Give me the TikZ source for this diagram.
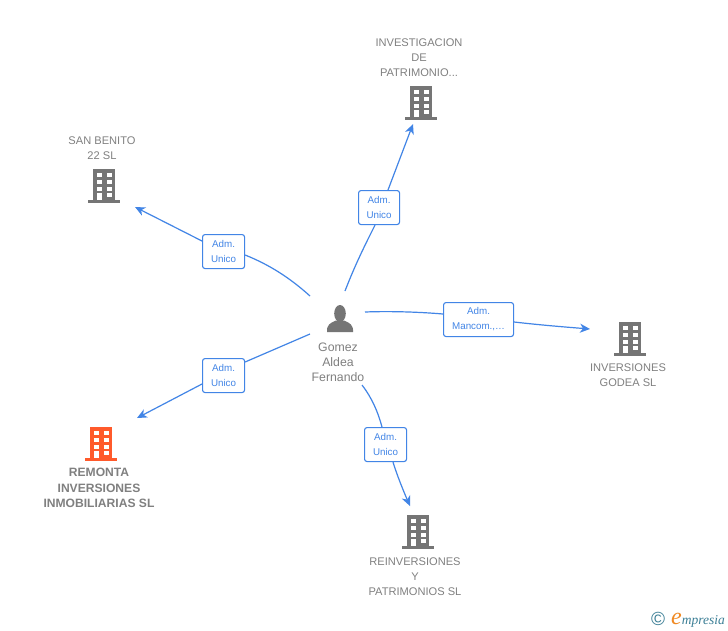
\documentclass[tikz,border=0pt]{standalone}
\usepackage{fontspec}
\setmainfont{Liberation Sans}
\newfontfamily\logofont{Liberation Serif}
\usetikzlibrary{arrows.meta}
\definecolor{linkblue}{HTML}{4285E6}
\definecolor{labgray}{HTML}{808080}
\definecolor{icongray}{HTML}{757575}
\definecolor{iconorange}{HTML}{FF5A2B}
\definecolor{logoteal}{HTML}{3C7F96}
\definecolor{logoorange}{HTML}{F08A24}
\newcommand{\buildingicon}[3]{%
 \begin{scope}[shift={(#1,#2)}]
  \fill[#3] (-11,-17) rectangle (11,14);
  \fill[#3] (-16,14) rectangle (16,17);
  \foreach \wy in {-13,-6,0.5,7}{
    \fill[white] (-7.5,\wy) rectangle ++(5.5,4);
    \fill[white] (2.5,\wy) rectangle ++(5.5,4);
  }
  \fill[white] (-7.5,10) rectangle (-2,14);
 \end{scope}}
\tikzset{
 x=1pt,y=-1pt,
 namelabel/.style={text=labgray,font=\fontsize{11.1}{15}\selectfont,align=center,inner sep=0pt},
 boldlabel/.style={namelabel,font=\fontsize{12.1}{15.3}\selectfont\bfseries},
 rolebox/.style={draw=linkblue,line width=1.1pt,fill=white,rounded corners=2.5pt,text=linkblue,
   font=\fontsize{9.8}{15}\selectfont,align=center,inner sep=0pt,anchor=north west},
 link/.style={draw=linkblue,line width=1.2pt},
 linkarrow/.style={link,-{Stealth[length=10pt,width=9pt,inset=3pt]}},
}
\begin{document}
\begin{tikzpicture}
\useasboundingbox[fill=white] (0,0) rectangle (728,630);
% coordinates
\coordinate (p1) at (345,291); \coordinate (e1) at (413,124);
\coordinate (p2) at (310,296); \coordinate (e2) at (135,207);
\coordinate (p3) at (365,312); \coordinate (e3) at (590,329);
\coordinate (p4) at (310,334); \coordinate (e4) at (137,418);
\coordinate (p5) at (362,385); \coordinate (e5) at (410,506);
% role boxes
\node[rolebox,minimum width=41pt,minimum height=34pt] (r1) at (358,190) {Adm.\\Unico};
\node[rolebox,minimum width=42pt,minimum height=34pt] (r2) at (202,234) {Adm.\\Unico};
\node[rolebox,minimum width=70pt,minimum height=34pt] (r3) at (443,302) {Adm.\\Mancom.,\ldots};
\node[rolebox,minimum width=42pt,minimum height=34pt] (r4) at (202,358) {Adm.\\Unico};
\node[rolebox,minimum width=42pt,minimum height=34pt] (r5) at (364,427) {Adm.\\Unico};
% connectors
\draw[link] (p1) .. controls (355,265) and (365,245) .. (r1.south -| 375,0);
\draw[linkarrow] (r1.north -| 388,0) -- (e1);
\draw[link] (p2) .. controls (290,278) and (270,265) .. (r2.east |- 0,255);
\draw[linkarrow] (r2.west |- 0,241) -- (e2);
\draw[link] (p3) .. controls (390,311) and (420,312) .. (r3.west |- 0,314);
\draw[linkarrow] (r3.east |- 0,322) .. controls (540,325) and (565,327) .. (e3);
\draw[link] (p4) -- (r4.east |- 0,362);
\draw[linkarrow] (r4.west |- 0,384) -- (e4);
\draw[link] (p5) .. controls (372,398) and (378,412) .. (r5.north -| 382,0);
\draw[linkarrow] (r5.south -| 393,0) .. controls (397,475) and (403,490) .. (e5);
% building icons
\buildingicon{421}{103}{icongray}
\buildingicon{104}{186}{icongray}
\buildingicon{630}{339}{icongray}
\buildingicon{418}{532}{icongray}
\buildingicon{101}{444}{iconorange}
% person icon
\fill[icongray] (340,313.5) ellipse (5.8 and 8.5);
\fill[icongray] (327,332) .. controls (326.5,325) and (330,323) .. (336,320.5) -- (344,320.5) .. controls (350,323) and (353.5,325) .. (353,332) -- cycle;
% labels
\node[namelabel] (n1) at (419,57.5) {INVESTIGACION\\DE\\PATRIMONIO...};
\node[namelabel] (n2) at (102,148) {SAN BENITO\\22 SL};
\node[namelabel] (n3) at (628,375.5) {INVERSIONES\\GODEA SL};
\node[namelabel] (n5) at (415,576.5) {REINVERSIONES\\Y\\PATRIMONIOS SL};
\node[boldlabel] (n4) at (99,488) {REMONTA\\INVERSIONES\\INMOBILIARIAS SL};
\node[namelabel,font=\fontsize{12.3}{15}\selectfont] (n0) at (338,362.5) {Gomez\\Aldea\\Fernando};
% logo
\node[inner sep=0pt,text=logoteal,font=\fontsize{19}{19}\selectfont] (lc) at (658,619) {©};
\node[inner sep=0pt,anchor=base west,font=\logofont\itshape\fontsize{13.5}{15}\selectfont,text=logoteal] (lg) at (671,624) {\textcolor{logoorange}{\fontsize{24}{15}\selectfont e}mpresia};
\end{tikzpicture}
\end{document}
